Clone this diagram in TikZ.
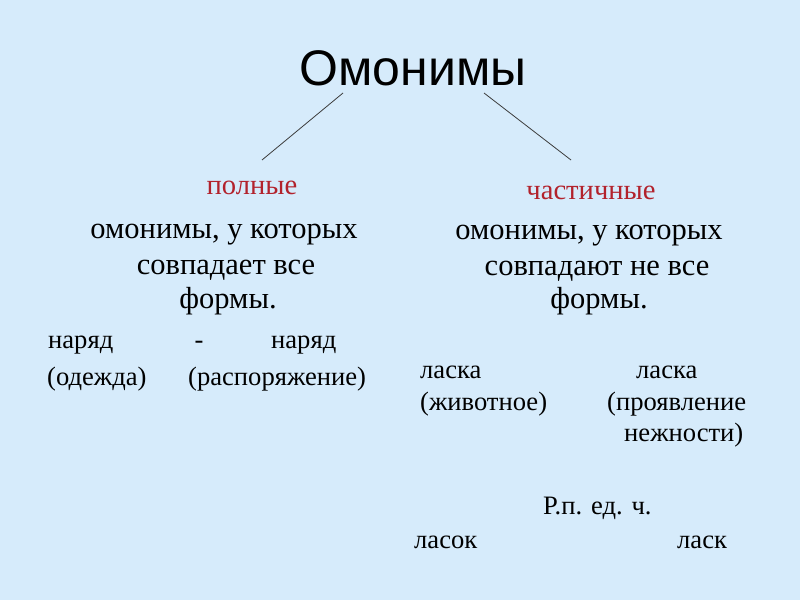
\documentclass[tikz,border=0pt]{standalone}
\usepackage{fontspec}
\setmainfont{Liberation Serif}
\newfontfamily\titlefont{Liberation Sans}
\definecolor{bgblue}{RGB}{214,235,251}
\definecolor{headred}{RGB}{178,34,44}
\definecolor{linegray}{RGB}{60,60,60}

\begin{document}
\begin{tikzpicture}[x=1pt,y=-1pt,
    body/.style={anchor=base,inner sep=0pt,font=\fontsize{30.5}{30}\selectfont},
    head/.style={anchor=base,inner sep=0pt,text=headred,font=\fontsize{28.6}{28}\selectfont},
    ex/.style={anchor=base west,inner sep=0pt,font=\fontsize{26.6}{26}\selectfont},
    branch/.style={draw=linegray,line width=0.8pt}]
    \fill[bgblue] (0,0) rectangle (800,600);
    \useasboundingbox (0,0) rectangle (800,600);

    \node[anchor=base,inner sep=0pt,font=\titlefont\fontsize{50}{50}\selectfont] (title) at (413,85) {Омонимы};
    \node[head] (full) at (252,194) {полные};
    \node[head] (partial) at (591,199) {частичные};

    \coordinate (title_l) at (343,93);
    \coordinate (title_r) at (484,93);
    \coordinate (full_top) at (262,160);
    \coordinate (partial_top) at (571,160);
    \draw[branch] (title_l) -- (full_top);
    \draw[branch] (title_r) -- (partial_top);

    % full homonyms
    \node[body] (full_a) at (224,238) {омонимы, у которых};
    \node[body] (full_b) at (226,274) {совпадает все};
    \node[body] (full_c) at (228,308) {формы.};
    \node[ex] (naryad_a) at (48,348) {наряд};
    \node[ex,anchor=base] (dash) at (199,348) {-};
    \node[ex] (naryad_b) at (271,348) {наряд};
    \node[ex] (odezhda) at (47,385) {(одежда)};
    \node[ex] (rasp) at (188,385) {(распоряжение)};

    % partial homonyms
    \node[body] (part_a) at (589,239) {омонимы, у которых};
    \node[body] (part_b) at (597,275) {совпадают не все};
    \node[body] (part_c) at (599,308) {формы.};
    \node[ex] (laska_a) at (420,378) {ласка};
    \node[ex] (laska_b) at (636,378) {ласка};
    \node[ex] (zhiv) at (420,410) {(животное)};
    \node[ex] (proyav) at (607,410) {(проявление};
    \node[ex] (nezhn) at (624,441) {нежности)};
    \node[ex] (rp) at (543,514) {Р.п. ед. ч.};
    \node[ex] (lasok) at (414,548) {ласок};
    \node[ex] (lask) at (677,548) {ласк};
\end{tikzpicture}
\end{document}
